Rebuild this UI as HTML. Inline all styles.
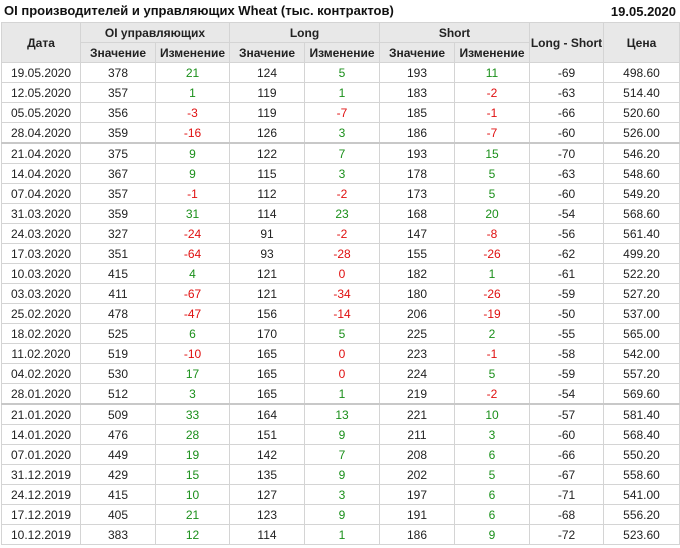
<!DOCTYPE html>
<html><head><meta charset="utf-8"><style>
body{margin:0;width:680px;height:548px;background:#fff;font-family:"Liberation Sans",Arial,sans-serif;overflow:hidden;position:relative}
.t{position:absolute;left:4px;top:3px;font-weight:bold;font-size:13px;color:#111}
.d{position:absolute;right:4px;top:4px;font-weight:bold;font-size:13px;color:#111}
table{position:absolute;left:1px;top:22px;border-collapse:collapse;font-size:12px;color:#222;table-layout:fixed}
td,th{border:1px solid #d4d4d4;text-align:center;padding:0;height:19px;white-space:nowrap}
th{background:#e8e8e8;font-weight:bold;color:#222;font-size:12px}
tr.s td{border-top:2px solid #c8c8c8}
.g{color:#1a8f1a}.r{color:#e01010}
</style></head><body>
<div class="t">OI производителей и управляющих Wheat (тыс. контрактов)</div>
<div class="d">19.05.2020</div>
<table>
<colgroup><col style="width:79px"><col style="width:75px"><col style="width:74px"><col style="width:75px"><col style="width:75px"><col style="width:75px"><col style="width:75px"><col style="width:74px"><col style="width:76px"></colgroup>
<tr><th rowspan="2">Дата</th><th colspan="2">OI управляющих</th><th colspan="2">Long</th><th colspan="2">Short</th><th rowspan="2">Long - Short</th><th rowspan="2">Цена</th></tr>
<tr><th>Значение</th><th>Изменение</th><th>Значение</th><th>Изменение</th><th>Значение</th><th>Изменение</th></tr>
<tr><td>19.05.2020</td><td>378</td><td class="g">21</td><td>124</td><td class="g">5</td><td>193</td><td class="g">11</td><td>-69</td><td>498.60</td></tr>
<tr><td>12.05.2020</td><td>357</td><td class="g">1</td><td>119</td><td class="g">1</td><td>183</td><td class="r">-2</td><td>-63</td><td>514.40</td></tr>
<tr><td>05.05.2020</td><td>356</td><td class="r">-3</td><td>119</td><td class="r">-7</td><td>185</td><td class="r">-1</td><td>-66</td><td>520.60</td></tr>
<tr><td>28.04.2020</td><td>359</td><td class="r">-16</td><td>126</td><td class="g">3</td><td>186</td><td class="r">-7</td><td>-60</td><td>526.00</td></tr>
<tr class="s"><td>21.04.2020</td><td>375</td><td class="g">9</td><td>122</td><td class="g">7</td><td>193</td><td class="g">15</td><td>-70</td><td>546.20</td></tr>
<tr><td>14.04.2020</td><td>367</td><td class="g">9</td><td>115</td><td class="g">3</td><td>178</td><td class="g">5</td><td>-63</td><td>548.60</td></tr>
<tr><td>07.04.2020</td><td>357</td><td class="r">-1</td><td>112</td><td class="r">-2</td><td>173</td><td class="g">5</td><td>-60</td><td>549.20</td></tr>
<tr><td>31.03.2020</td><td>359</td><td class="g">31</td><td>114</td><td class="g">23</td><td>168</td><td class="g">20</td><td>-54</td><td>568.60</td></tr>
<tr><td>24.03.2020</td><td>327</td><td class="r">-24</td><td>91</td><td class="r">-2</td><td>147</td><td class="r">-8</td><td>-56</td><td>561.40</td></tr>
<tr><td>17.03.2020</td><td>351</td><td class="r">-64</td><td>93</td><td class="r">-28</td><td>155</td><td class="r">-26</td><td>-62</td><td>499.20</td></tr>
<tr><td>10.03.2020</td><td>415</td><td class="g">4</td><td>121</td><td class="r">0</td><td>182</td><td class="g">1</td><td>-61</td><td>522.20</td></tr>
<tr><td>03.03.2020</td><td>411</td><td class="r">-67</td><td>121</td><td class="r">-34</td><td>180</td><td class="r">-26</td><td>-59</td><td>527.20</td></tr>
<tr><td>25.02.2020</td><td>478</td><td class="r">-47</td><td>156</td><td class="r">-14</td><td>206</td><td class="r">-19</td><td>-50</td><td>537.00</td></tr>
<tr><td>18.02.2020</td><td>525</td><td class="g">6</td><td>170</td><td class="g">5</td><td>225</td><td class="g">2</td><td>-55</td><td>565.00</td></tr>
<tr><td>11.02.2020</td><td>519</td><td class="r">-10</td><td>165</td><td class="r">0</td><td>223</td><td class="r">-1</td><td>-58</td><td>542.00</td></tr>
<tr><td>04.02.2020</td><td>530</td><td class="g">17</td><td>165</td><td class="r">0</td><td>224</td><td class="g">5</td><td>-59</td><td>557.20</td></tr>
<tr><td>28.01.2020</td><td>512</td><td class="g">3</td><td>165</td><td class="g">1</td><td>219</td><td class="r">-2</td><td>-54</td><td>569.60</td></tr>
<tr class="s"><td>21.01.2020</td><td>509</td><td class="g">33</td><td>164</td><td class="g">13</td><td>221</td><td class="g">10</td><td>-57</td><td>581.40</td></tr>
<tr><td>14.01.2020</td><td>476</td><td class="g">28</td><td>151</td><td class="g">9</td><td>211</td><td class="g">3</td><td>-60</td><td>568.40</td></tr>
<tr><td>07.01.2020</td><td>449</td><td class="g">19</td><td>142</td><td class="g">7</td><td>208</td><td class="g">6</td><td>-66</td><td>550.20</td></tr>
<tr><td>31.12.2019</td><td>429</td><td class="g">15</td><td>135</td><td class="g">9</td><td>202</td><td class="g">5</td><td>-67</td><td>558.60</td></tr>
<tr><td>24.12.2019</td><td>415</td><td class="g">10</td><td>127</td><td class="g">3</td><td>197</td><td class="g">6</td><td>-71</td><td>541.00</td></tr>
<tr><td>17.12.2019</td><td>405</td><td class="g">21</td><td>123</td><td class="g">9</td><td>191</td><td class="g">6</td><td>-68</td><td>556.20</td></tr>
<tr><td>10.12.2019</td><td>383</td><td class="g">12</td><td>114</td><td class="g">1</td><td>186</td><td class="g">9</td><td>-72</td><td>523.60</td></tr>
</table>
</body></html>
